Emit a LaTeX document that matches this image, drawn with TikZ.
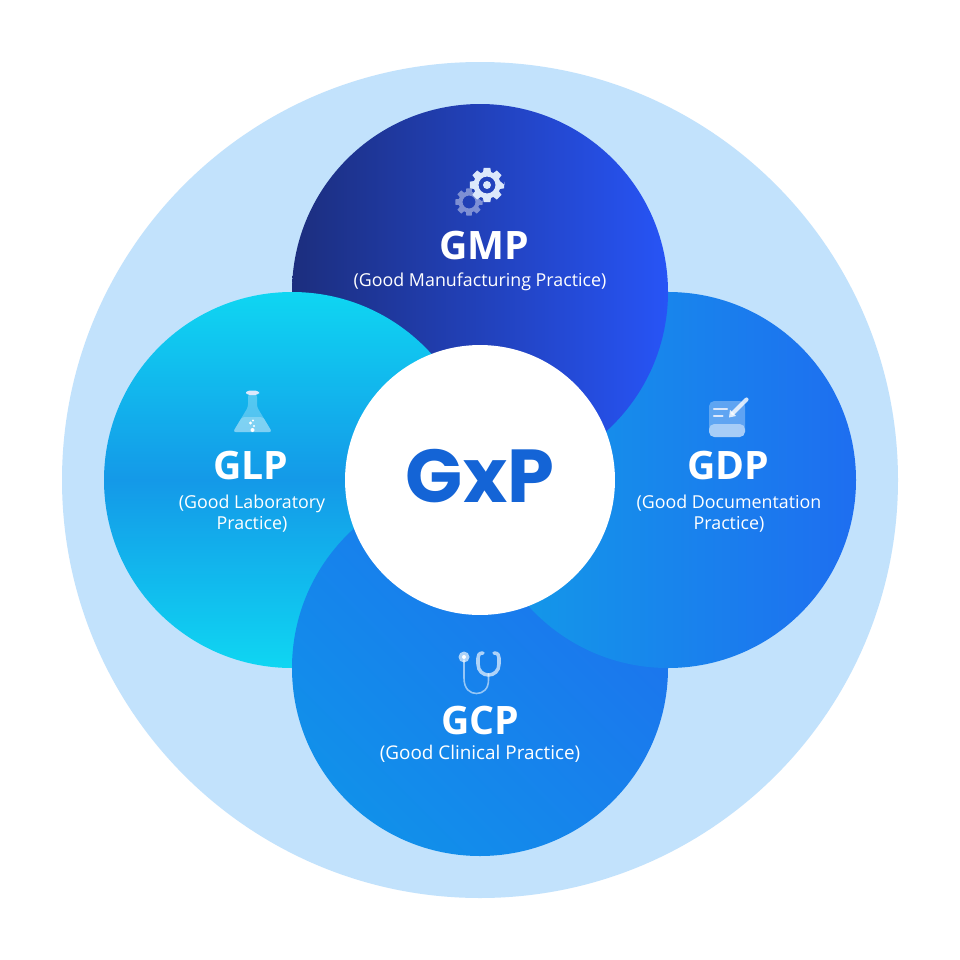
\documentclass[tikz,border=0pt]{standalone}
\usepackage{fontspec}
\setmainfont{Open Sans}
\newfontfamily\logofont{Poppins}
\definecolor{halo}{HTML}{C2E2FC}
\definecolor{iconlt}{HTML}{DCE8FB}
\definecolor{mpL}{HTML}{1C2E7E}
\definecolor{mpR}{HTML}{2754F6}
\definecolor{lpE}{HTML}{0FD6F2}
\definecolor{lpM}{HTML}{1499E8}
\definecolor{dpL}{HTML}{129CE8}
\definecolor{dpR}{HTML}{1E6EF0}
\definecolor{cpL}{HTML}{1190EA}
\definecolor{cpR}{HTML}{1D72EE}
\definecolor{logoblue}{HTML}{1464D6}
\newcommand{\gearpath}[2]{(0:#1)
  \foreach \k in {0,45,...,315}{
    -- ({\k-11}:#1) -- ({\k+11}:#1) -- ({\k+17}:#2) -- ({\k+28}:#2)
  } -- cycle}
\tikzset{
  abbr/.style={text=white,font=\fontsize{22.3}{24}\selectfont\bfseries,inner sep=0pt,anchor=center},
  full/.style={text=white,font=\fontsize{10.15}{12}\selectfont,inner sep=0pt,anchor=center,align=center},
  iconline/.style={line cap=round,line join=round}
}
\begin{document}
\begin{tikzpicture}[x=0.02cm,y=-0.02cm]
\useasboundingbox (0,0) rectangle (960,960);
\fill[white] (0,0) rectangle (960,960);
\fill[halo] (480,480) circle[radius=418];
% cyclic overlap: GMP < GLP < GCP < GDP < GMP
\shade[left color=mpL,right color=mpR] (480,292) circle[radius=188];
\shade[top color=lpE,bottom color=lpE,middle color=lpM] (292,480) circle[radius=188];
\shade[left color=cpL,right color=cpR,shading angle=135] (480,668) circle[radius=188];
\shade[left color=dpL,right color=dpR] (668,480) circle[radius=188];
\begin{scope}
  \clip (668,480) circle[radius=190];
  \shade[left color=mpL,right color=mpR] (480,292) circle[radius=188];
\end{scope}
% centre
\node[circle,fill=white,minimum size=5.4cm,inner sep=0pt] (hub) at (480,480) {};
\node[text=logoblue,font=\logofont\fontsize{42.7}{44}\selectfont\bfseries,inner sep=0pt] (hubtext) at (480,476) {GxP};
% GMP
\node[abbr] (gmp) at (484,246) {GMP};
\node[full] (gmpfull) at (480,281.5) {(Good Manufacturing Practice)};
\begin{scope}[shift={(469,202)}]
  \fill[white,fill opacity=0.42,even odd rule] \gearpath{14}{10.5} (0,0) circle[radius=6.5];
\end{scope}
\begin{scope}[shift={(487,185)}]
  \fill[iconlt,even odd rule] \gearpath{17.5}{13.5} (0,0) circle[radius=8.5];
  \fill[iconlt] (0,0) circle[radius=4];
\end{scope}
% GLP
\node[abbr] (glp) at (251,465) {GLP};
\node[full] (glpfull) at (252,513.5) {(Good Laboratory\\Practice)};
\fill[white,opacity=0.28,rounded corners=1.5] (248,394) -- (248,407) -- (233,432) -- (272,432) -- (257,407) -- (257,394) -- cycle;
\fill[white,opacity=0.25,rounded corners=1.5] (242,417) -- (233,432) -- (272,432) -- (263,417) -- cycle;
\fill[iconlt,rounded corners=2] (246,390.5) rectangle (259,395);
\fill[white] (250.5,423) circle[radius=1.7] (254,426) circle[radius=1.2] (253,420.5) circle[radius=1.2] (252.5,430) circle[radius=2];
% GDP
\node[abbr] (gdp) at (728.5,465) {GDP};
\node[full] (gdpfull) at (729,513.5) {(Good Documentation\\Practice)};
\fill[white,opacity=0.3,rounded corners=3] (709,401) rectangle (745,437);
\fill[white,opacity=0.45,rounded corners=3] (709,424) -- (745,424) -- (745,437) -- (709,437) -- cycle;
\draw[iconline,white,opacity=0.8,line width=2.3pt] (733,413) -- (746.5,399.5);
\fill[white,opacity=0.8] (729,417.5) -- (730,410) -- (736,416) -- cycle;
\draw[iconline,iconlt,line width=1.3pt] (714,409.3) -- (727,409.3) (714,415.7) -- (722.5,415.7);
% GCP
\node[abbr] (gcp) at (480,720) {GCP};
\node[full,font=\fontsize{10.75}{12}\selectfont] (gcpfull) at (480,754) {(Good Clinical Practice)};
\draw[iconline,white,opacity=0.55,line width=0.9pt] (464,660) -- (464,678) .. controls (464,689) and (470,693.5) .. (476.5,693.5) .. controls (483,693.5) and (488.5,689) .. (488.5,680) -- (488.5,674);
\draw[iconline,white,opacity=0.65,line width=2pt] (483,653) .. controls (479,653) and (478,655) .. (478,658) -- (478,664) .. controls (478,671) and (483,675) .. (488.5,675) .. controls (494,675) and (499,671) .. (499,664) -- (499,658) .. controls (499,655) and (498,653) .. (494,653);
\fill[white,opacity=0.65] (464,657) circle[radius=5.5];
\fill[white] (464,657) circle[radius=2];
\end{tikzpicture}
\end{document}
